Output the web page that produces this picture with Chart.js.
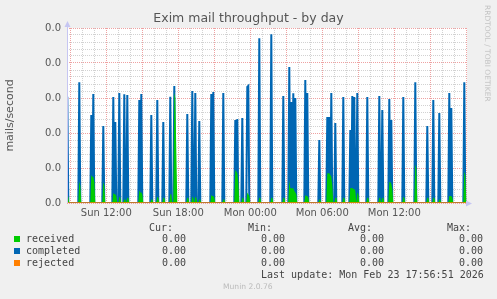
<!DOCTYPE html>
<html>
<head>
<meta charset="utf-8">
<title>Exim mail throughput - by day</title>
<script src="https://cdn.jsdelivr.net/npm/chart.js@4.4.1/dist/chart.umd.min.js"></script>
<style>
  html, body { margin: 0; padding: 0; background: #f0f0f0; }
  #wrap { position: relative; width: 497px; height: 299px; overflow: hidden; font-family: "DejaVu Sans", sans-serif; color: #555; }
  #chart { position: absolute; left: 0; top: 0; }
  .t { position: absolute; white-space: pre; line-height: 1; }
  .mono { font-family: "DejaVu Sans Mono", monospace; font-size: 10px; color: #444; }
  .sw { position: absolute; width: 6px; height: 6px; }
</style>
</head>
<body>
<div id="wrap">
  <canvas id="chart" width="497" height="299"></canvas>

  <div class="t" style="left:0;width:497px;text-align:center;top:12px;font-size:12.5px;color:#555;">Exim mail throughput - by day</div>
  <div class="t" style="left:483px;top:5px;font-size:7.5px;color:#c4c4c4;transform-origin:0 0;transform:translateX(8px) rotate(90deg);">RRDTOOL / TOBI OETIKER</div>

  <div class="t mono" style="left:149px;top:223px;">Cur:</div>
  <div class="t mono" style="left:248px;top:223px;">Min:</div>
  <div class="t mono" style="left:348px;top:223px;">Avg:</div>
  <div class="t mono" style="left:447px;top:223px;">Max:</div>
  <div id="legendRows"></div>
  <div class="t mono" style="left:261px;top:270px;">Last update: Mon Feb 23 17:56:51 2026</div>
  <div class="t" style="left:223px;top:283px;font-size:7.6px;color:#bbb;">Munin 2.0.76</div>
</div>

<script>
// Munin exim_mailstats day graph. One sample every 5 minutes, x = minutes since Sun 00:00.
// Only the non-zero samples are listed; every other sample is 0.

const completedMinutes = [
  525, 585, 645, 655, 705, 755, 765, 785, 810, 825,
  885, 895, 945, 975, 1005, 1040, 1060, 1125, 1150, 1165,
  1185, 1245, 1255, 1305, 1365, 1375, 1400, 1425, 1430, 1485,
  1545, 1605, 1635, 1645, 1655, 1665, 1715, 1725, 1785, 1825,
  1835, 1845, 1865, 1905, 1940, 1950, 1960, 1975, 2025, 2085,
  2100, 2135, 2145, 2205, 2265, 2325, 2355, 2385, 2435, 2445,
  2510
];

const completedValues = [
  0.00607, 0.00690, 0.00503, 0.00623, 0.00440, 0.00606, 0.00463, 0.00629, 0.00621, 0.00617,
  0.00589, 0.00623, 0.00503, 0.00589, 0.00463, 0.00607, 0.00669, 0.00509, 0.00640, 0.00629,
  0.00469, 0.00623, 0.00634, 0.00629, 0.00474, 0.00480, 0.00486, 0.00663, 0.00669, 0.00941,
  0.00964, 0.00611, 0.00777, 0.00577, 0.00627, 0.00600, 0.00703, 0.00629, 0.00360, 0.00491,
  0.00491, 0.00629, 0.00457, 0.00606, 0.00417, 0.00611, 0.00606, 0.00629, 0.00606, 0.00611,
  0.00531, 0.00594, 0.00474, 0.00606, 0.00690, 0.00440, 0.00589, 0.00514, 0.00629, 0.00543,
  0.00690
];

const receivedMinutes = [
  525, 530, 585, 590, 645, 650, 655, 660, 705, 710,
  755, 760, 765, 770, 785, 790, 810, 815, 825, 830,
  885, 890, 895, 900, 945, 950, 975, 980, 1005, 1010,
  1040, 1045, 1060, 1065, 1070, 1125, 1130, 1150, 1155, 1165,
  1170, 1185, 1190, 1245, 1250, 1255, 1260, 1305, 1310, 1365,
  1370, 1375, 1380, 1400, 1405, 1425, 1430, 1435, 1485, 1490,
  1545, 1550, 1605, 1610, 1635, 1640, 1645, 1650, 1655, 1660,
  1665, 1670, 1715, 1720, 1725, 1730, 1785, 1790, 1825, 1830,
  1835, 1840, 1845, 1850, 1865, 1870, 1905, 1910, 1940, 1945,
  1950, 1955, 1960, 1965, 1975, 1980, 2025, 2030, 2085, 2090,
  2100, 2105, 2135, 2140, 2145, 2150, 2205, 2210, 2265, 2270,
  2325, 2330, 2355, 2360, 2385, 2390, 2435, 2440, 2445, 2450,
  2510, 2515
];

const receivedValues = [
  0.00036, 0.00036, 0.00124, 0.00100, 0.00160, 0.00150, 0.00150, 0.00120, 0.00120, 0.00100,
  0.00057, 0.00050, 0.00050, 0.00040, 0.00036, 0.00030, 0.00020, 0.00020, 0.00030, 0.00030,
  0.00074, 0.00060, 0.00060, 0.00050, 0.00020, 0.00020, 0.00036, 0.00030, 0.00030, 0.00030,
  0.00050, 0.00050, 0.00630, 0.00600, 0.00300, 0.00030, 0.00030, 0.00036, 0.00030, 0.00036,
  0.00030, 0.00020, 0.00020, 0.00046, 0.00040, 0.00040, 0.00030, 0.00020, 0.00020, 0.00189,
  0.00180, 0.00170, 0.00120, 0.00030, 0.00030, 0.00060, 0.00050, 0.00040, 0.00030, 0.00030,
  0.00030, 0.00030, 0.00030, 0.00030, 0.00130, 0.00084, 0.00084, 0.00084, 0.00084, 0.00070,
  0.00060, 0.00050, 0.00046, 0.00040, 0.00040, 0.00030, 0.00020, 0.00020, 0.00170, 0.00170,
  0.00170, 0.00160, 0.00150, 0.00100, 0.00030, 0.00030, 0.00030, 0.00030, 0.00086, 0.00086,
  0.00086, 0.00080, 0.00080, 0.00070, 0.00060, 0.00050, 0.00030, 0.00030, 0.00030, 0.00030,
  0.00030, 0.00030, 0.00120, 0.00120, 0.00110, 0.00080, 0.00036, 0.00030, 0.00220, 0.00200,
  0.00030, 0.00030, 0.00030, 0.00030, 0.00020, 0.00020, 0.00040, 0.00040, 0.00040, 0.00030,
  0.00180, 0.00160
];

const rejectedValue = 0;

const xTickMinutes = [720, 1080, 1440, 1800, 2160];
const xTickLabels = ["Sun 12:00", "Sun 18:00", "Mon 00:00", "Mon 06:00", "Mon 12:00"];
const yMajorStep = 0.002;
const yMinorStep = 0.0004;
const yMax = 0.01;

const series = [
  { label: "received",  color: "#00cc00", cur: "0.00", min: "0.00", avg: "0.00", max: "0.00" },
  { label: "completed", color: "#0066b3", cur: "0.00", min: "0.00", avg: "0.00", max: "0.00" },
  { label: "rejected",  color: "#ff8000", cur: "0.00", min: "0.00", avg: "0.00", max: "0.00" }
];

const X_MIN = 523.5, X_MAX = 2523.5;   // visible window, 400 px
const SAMPLE_STEP = 5;

const samples = [];
for (let m = 520; m <= 2525; m += SAMPLE_STEP) samples.push(m);

function sampled(minutes, values) {
  return samples.map(m => {
    const i = minutes.indexOf(m);
    return { x: m, y: i >= 0 ? values[i] : 0 };
  });
}

// legend rows below the plot
document.getElementById("legendRows").innerHTML = series.map((s, i) => {
  const top = 234 + i * 12;
  return `
    <div class="sw" style="left:14px;top:${top + 2}px;background:${s.color}"></div>
    <div class="t mono" style="left:26px;top:${top}px;">${s.label}</div>
    <div class="t mono" style="left:162px;top:${top}px;">${s.cur}</div>
    <div class="t mono" style="left:261px;top:${top}px;">${s.min}</div>
    <div class="t mono" style="left:360px;top:${top}px;">${s.avg}</div>
    <div class="t mono" style="left:459px;top:${top}px;">${s.max}</div>`;
}).join("");

const MAJOR_GRID = "#eea2a2";
const MINOR_GRID = "#d2d2d2";

// rrdtool style axis with little arrow heads
const axisArrows = {
  id: "axisArrows",
  afterDatasetsDraw(chart) {
    const { ctx, chartArea: a } = chart;
    ctx.save();
    ctx.strokeStyle = "#c6c6f2";
    ctx.fillStyle = "#c6c6f2";
    ctx.lineWidth = 1;
    ctx.beginPath();
    ctx.moveTo(a.left + 0.5, a.bottom);
    ctx.lineTo(a.left + 0.5, a.top - 3);
    ctx.stroke();
    ctx.beginPath();
    ctx.moveTo(a.left + 0.5, a.top - 7);
    ctx.lineTo(a.left - 2.5, a.top - 1);
    ctx.lineTo(a.left + 3.5, a.top - 1);
    ctx.closePath();
    ctx.fill();
    ctx.beginPath();
    ctx.moveTo(a.right + 5, a.bottom + 0.5);
    ctx.lineTo(a.right - 1, a.bottom - 2.5);
    ctx.lineTo(a.right - 1, a.bottom + 3.5);
    ctx.closePath();
    ctx.fill();
    ctx.restore();
  }
};

const plotBackground = {
  id: "plotBackground",
  beforeDraw(chart) {
    const { ctx, chartArea: a } = chart;
    ctx.save();
    ctx.fillStyle = "#ffffff";
    ctx.fillRect(a.left, a.top, a.right - a.left, a.bottom - a.top);
    ctx.restore();
  }
};

new Chart(document.getElementById("chart"), {
  type: "line",
  data: {
    datasets: [
      {
        label: "rejected",
        data: samples.map(m => ({ x: m, y: rejectedValue })),
        borderColor: series[2].color,
        borderWidth: 1.5,
        pointRadius: 0,
        fill: false,
        order: 0
      },
      {
        label: "received",
        data: sampled(receivedMinutes, receivedValues),
        borderWidth: 0,
        borderColor: "rgba(0,0,0,0)",
        backgroundColor: series[0].color,
        pointRadius: 0,
        fill: "origin",
        order: 1
      },
      {
        label: "completed",
        data: sampled(completedMinutes, completedValues),
        borderColor: series[1].color,
        borderWidth: 2,
        pointRadius: 0,
        fill: false,
        order: 2
      }
    ]
  },
  options: {
    responsive: false,
    animation: false,
    events: [],
    layout: { padding: { left: 0, top: 28, right: 30, bottom: 76 } },
    plugins: { legend: { display: false }, tooltip: { enabled: false }, title: { display: false } },
    elements: { line: { tension: 0 } },
    scales: {
      x: {
        type: "linear",
        min: X_MIN,
        max: X_MAX,
        afterBuildTicks: s => {
          const ticks = [];
          for (let m = 540; m <= 2520; m += 60) ticks.push({ value: m });
          s.ticks = ticks;
        },
        afterFit: s => { s.height = 20; },
        ticks: {
          autoSkip: false,
          maxRotation: 0,
          padding: 4,
          color: "#555",
          font: { family: "DejaVu Sans", size: 10 },
          callback: v => {
            const i = xTickMinutes.indexOf(v);
            return i >= 0 ? xTickLabels[i] : "";
          }
        },
        grid: {
          drawTicks: false,
          color: c => (c.tick && c.tick.value % 180 === 0) ? MAJOR_GRID : MINOR_GRID,
          lineWidth: 1
        },
        border: { display: false, dash: [1, 1] }
      },
      y: {
        min: 0,
        max: yMax,
        afterBuildTicks: s => {
          const ticks = [];
          for (let i = 0; i <= Math.round(yMax / yMinorStep); i++) ticks.push({ value: i * yMinorStep });
          s.ticks = ticks;
        },
        afterFit: s => { s.width = 67; },
        ticks: {
          autoSkip: false,
          padding: 6,
          color: "#555",
          font: { family: "DejaVu Sans", size: 10 },
          callback: v => {
            const k = Math.round(v / yMinorStep);
            return k % Math.round(yMajorStep / yMinorStep) === 0 ? v.toFixed(1) : "";
          }
        },
        grid: {
          drawTicks: false,
          color: c => {
            if (!c.tick) return MINOR_GRID;
            const k = Math.round(c.tick.value / yMinorStep);
            return k % Math.round(yMajorStep / yMinorStep) === 0 ? MAJOR_GRID : MINOR_GRID;
          },
          lineWidth: 1
        },
        border: { display: false, dash: [1, 1] },
        title: {
          display: true,
          text: "mails/second",
          color: "#555",
          font: { family: "DejaVu Sans", size: 11 },
          padding: { top: 4, bottom: 0 }
        }
      }
    }
  },
  plugins: [plotBackground, axisArrows]
});
</script>
</body>
</html>
